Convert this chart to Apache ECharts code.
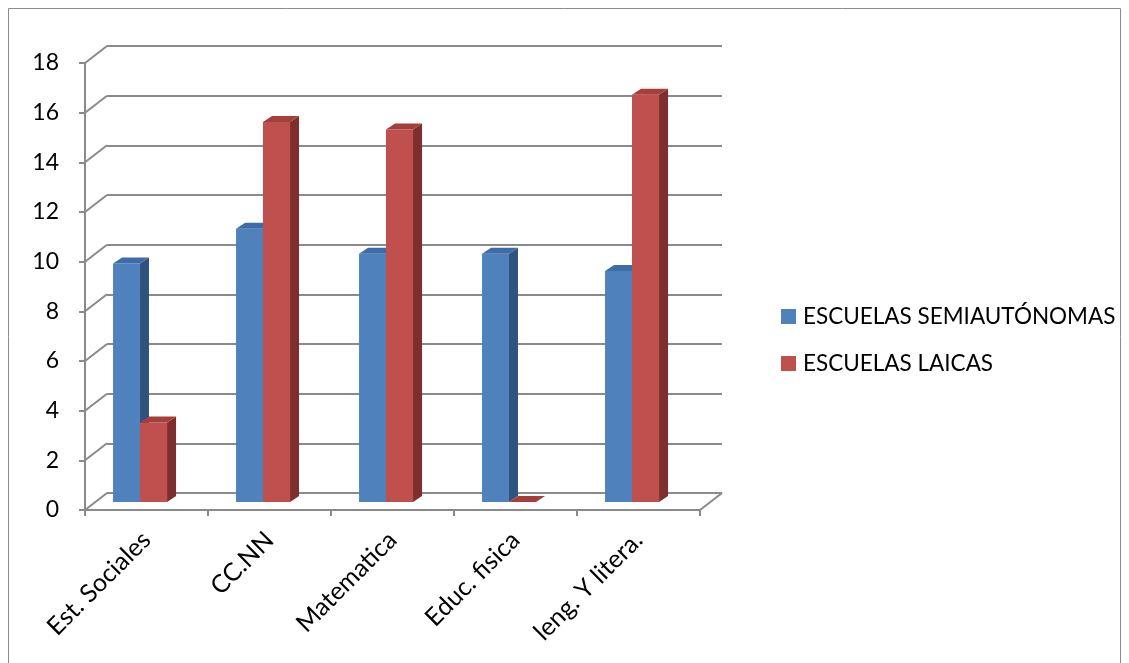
<!DOCTYPE html>
<html>
<head>
<meta charset="utf-8">
<script src="https://cdn.jsdelivr.net/npm/echarts@6/dist/echarts.min.js"></script>
<style>
html,body{margin:0;padding:0;background:#fff;}
#chart{width:1129px;height:663px;}
</style>
</head>
<body>
<div id="chart"></div>
<script>
var categories = ['Est. Sociales', 'CC.NN', 'Matematica', 'Educ. fisica', 'leng. Y litera.'];
var semiautonomas = [9.6, 11, 10, 10, 9.3];
var laicas = [3.2, 15.3, 15, 0, 16.4];
var yTicks = [0, 2, 4, 6, 8, 10, 12, 14, 16, 18];
var seriesNames = ['ESCUELAS SEMIAUTÓNOMAS', 'ESCUELAS LAICAS'];

var FONT = 'Lato';
var DEPTH = [22, -17];       // front -> back wall
var BAR_PLANE = [0, -8];     // bars' front-face offset from the front axis
var BAR_DEPTH = [9, -6];     // thickness of a bar
var GRID_COLOR = '#8a8a8a';

var palette = [
  {front: '#4F81BD', side: '#2F527F', top: '#3E6CA6'},
  {front: '#C0504D', side: '#7E2E2C', top: '#A53F3C'}
];
var barSpan = [[-0.272, -0.053], [-0.053, 0.167]];

function barRenderer(si) {
  return function (params, api) {
    var i = api.value(0), v = api.value(1);
    var base = api.coord([i, 0]);
    var top = api.coord([i, v]);
    var bw = api.size([1, 0])[0];
    var x0 = base[0] + barSpan[si][0] * bw + BAR_PLANE[0];
    var x1 = base[0] + barSpan[si][1] * bw + BAR_PLANE[0];
    var yb = base[1] + BAR_PLANE[1];
    var yt = top[1] + BAR_PLANE[1];
    var dx = BAR_DEPTH[0], dy = BAR_DEPTH[1];
    var c = palette[si];
    var children = [];
    if (yb - yt > 0.5) {
      children.push({type: 'polygon', shape: {points: [[x1, yt], [x1 + dx, yt + dy], [x1 + dx, yb + dy], [x1, yb]]}, style: {fill: c.side}});
      children.push({type: 'rect', shape: {x: x0, y: yt, width: x1 - x0, height: yb - yt}, style: {fill: c.front}});
    }
    children.push({type: 'polygon', shape: {points: [[x0, yt], [x0 + dx, yt + dy], [x1 + dx, yt + dy], [x1, yt]]}, style: {fill: c.top}});
    return {type: 'group', children: children};
  };
}

var barData = [
  semiautonomas.map(function (v, i) { return [i, v]; }),
  laicas.map(function (v, i) { return [i, v]; })
];

var option = {
  backgroundColor: '#ffffff',
  animation: false,
  textStyle: {fontFamily: FONT},
  graphic: [{
    type: 'rect', shape: {x: 8.5, y: 8.5, width: 1112, height: 700},
    style: {fill: 'none', stroke: '#8c8c8c', lineWidth: 1}, z: -10
  }],
  legend: {
    orient: 'vertical', left: 776, top: 300, itemGap: 24,
    itemWidth: 15, itemHeight: 15, icon: 'rect',
    textStyle: {fontFamily: FONT, fontSize: 22.5, color: '#000', padding: [0, 0, 0, 2]},
    data: seriesNames
  },
  grid: [
    {left: 85, top: 63, width: 615, height: 447},
    {left: 85 + DEPTH[0], top: 63 + DEPTH[1], width: 615, height: 447}
  ],
  xAxis: [
    {type: 'category', gridIndex: 0, data: categories,
     axisLine: {lineStyle: {color: GRID_COLOR, width: 2}},
     axisTick: {show: true, length: 6, lineStyle: {color: GRID_COLOR, width: 2}},
     axisLabel: {rotate: 45, fontFamily: FONT, fontSize: 25, color: '#000', margin: 26, interval: 0}},
    {type: 'category', gridIndex: 1, data: categories, show: false}
  ],
  yAxis: [
    {type: 'value', gridIndex: 0, min: 0, max: 18, interval: 2,
     axisLine: {show: true, lineStyle: {color: GRID_COLOR, width: 2}},
     axisTick: {show: true, length: 6, lineStyle: {color: GRID_COLOR, width: 2}},
     splitLine: {show: false},
     axisLabel: {fontFamily: FONT, fontSize: 23, color: '#000', margin: 26}},
    {type: 'value', gridIndex: 1, min: 0, max: 18, interval: 2,
     axisLine: {show: false}, axisTick: {show: false}, axisLabel: {show: false},
     splitLine: {show: true, lineStyle: {color: GRID_COLOR, width: 2}}}
  ],
  series: [
    {
      name: 'depth-lines', type: 'custom', xAxisIndex: 0, yAxisIndex: 0, silent: true, z: 1,
      data: yTicks.map(function (v) { return [0, v]; }),
      renderItem: function (params, api) {
        var cs = params.coordSys;
        var p = api.coord([0, api.value(1)]);
        var lines = [{type: 'line', shape: {x1: cs.x, y1: p[1], x2: cs.x + DEPTH[0], y2: p[1] + DEPTH[1]},
                      style: {stroke: GRID_COLOR, lineWidth: 2}}];
        if (api.value(1) === 0) {
          lines.push({type: 'line', shape: {x1: cs.x + cs.width, y1: p[1], x2: cs.x + cs.width + DEPTH[0], y2: p[1] + DEPTH[1]},
                      style: {stroke: GRID_COLOR, lineWidth: 2}});
        }
        return {type: 'group', children: lines};
      }
    },
    {name: seriesNames[0], type: 'custom', xAxisIndex: 0, yAxisIndex: 0, z: 3,
     itemStyle: {color: palette[0].front}, data: barData[0], renderItem: barRenderer(0)},
    {name: seriesNames[1], type: 'custom', xAxisIndex: 0, yAxisIndex: 0, z: 3,
     itemStyle: {color: palette[1].front}, data: barData[1], renderItem: barRenderer(1)}
  ]
};

var chart = echarts.init(document.getElementById('chart'), null, {renderer: 'canvas'});
chart.setOption(option);
</script>
</body>
</html>
